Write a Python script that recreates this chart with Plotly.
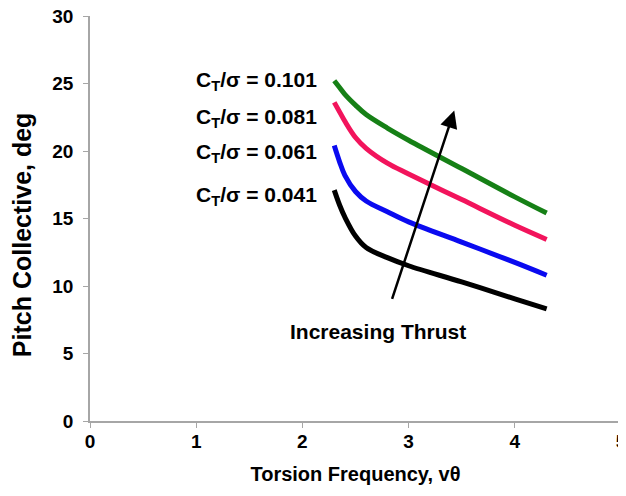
import plotly.graph_objects as go

# Data
torsion_freq = [2.3, 2.35, 2.4, 2.5, 2.6, 2.8, 3.0, 3.5, 4.0, 4.3]
series_names = ["0.041", "0.061", "0.081", "0.101"]
pitch_041 = [17.1, 16.0, 15.1, 13.7, 12.85, 12.1, 11.5, 10.3, 9.05, 8.3]
pitch_061 = [20.4, 19.2, 18.2, 17.0, 16.3, 15.5, 14.75, 13.25, 11.75, 10.8]
pitch_081 = [23.6, 22.9, 22.2, 21.0, 20.2, 19.1, 18.3, 16.4, 14.5, 13.45]
pitch_101 = [25.2, 24.7, 24.2, 23.4, 22.7, 21.7, 20.8, 18.7, 16.6, 15.4]
x_ticks = [0, 1, 2, 3, 4, 5]
y_ticks = [0, 5, 10, 15, 20, 25, 30]

series = [pitch_041, pitch_061, pitch_081, pitch_101]
colors = ["#000000", "#0a0af0", "#f2145c", "#168016"]
label_y = [16.67, 19.88, 22.48, 25.2]

FONT = "Liberation Sans, Arial, sans-serif"

fig = go.Figure()
for name, ys, c in zip(series_names, series, colors):
    fig.add_trace(go.Scatter(
        x=torsion_freq, y=ys, mode="lines", name=name,
        line=dict(color=c, width=5, shape="spline", smoothing=1.0),
        showlegend=False, hoverinfo="skip"))

for name, ly in zip(series_names, label_y):
    fig.add_annotation(
        x=2.155, y=ly, xref="x", yref="y", xanchor="right", yanchor="middle",
        text="C<sub>T</sub>/σ = " + name, showarrow=False, yshift=0,
        font=dict(family=FONT, size=21, color="black", weight="bold"))

fig.add_annotation(
    x=3.43, y=23.0, ax=2.84, ay=8.94, xref="x", yref="y", axref="x", ayref="y",
    text="", showarrow=True, arrowhead=2, arrowsize=1.4, arrowwidth=2.5,
    arrowcolor="black")

fig.add_annotation(
    x=2.71, y=6.68, xref="x", yref="y", text="Increasing Thrust",
    showarrow=False, xanchor="center", yanchor="middle", yshift=-1,
    font=dict(family=FONT, size=21, color="black", weight="bold"))

# y-axis title placed as rotated text (sits a little below the plot centre)
fig.add_annotation(
    x=-0.128, y=0.459, xref="paper", yref="paper", text="Pitch Collective, deg",
    textangle=-90, showarrow=False, xanchor="center", yanchor="middle",
    font=dict(family=FONT, size=25, color="black", weight="bold"))

axis_common = dict(
    showline=True, linecolor="#a6a6a6", linewidth=1.5, showgrid=False,
    zeroline=False, ticks="outside", ticklen=5, tickcolor="#a6a6a6",
    tickwidth=1, automargin=False, ticklabeloverflow="allow",
    tickfont=dict(family=FONT, size=19, color="black", weight="bold"))

# The page adds an 8px body margin, so the figure is sized to fit inside it
fig.update_layout(
    width=618, height=478,
    margin=dict(l=82, r=5, t=8, b=65),
    paper_bgcolor="white", plot_bgcolor="white",
    xaxis=dict(range=[0, 5], tickvals=x_ticks, ticklabelstandoff=-3,
               title=dict(text="Torsion Frequency, vθ", standoff=16,
                          font=dict(family=FONT, size=20, color="black", weight="bold")),
               **axis_common),
    yaxis=dict(range=[0, 30], tickvals=y_ticks, ticklabelstandoff=6,
               **axis_common),
)

fig.write_html("out.html")
